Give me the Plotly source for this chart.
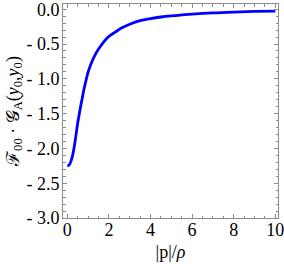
import plotly.graph_objects as go

p_over_rho = [0, 0.08, 0.2, 0.3, 0.4, 0.5, 0.6, 0.7, 0.8, 0.9, 1.0, 1.2, 1.4, 1.6, 1.8, 2.0, 2.3, 2.6, 3.0, 3.5, 4.0, 4.5, 5.0, 5.5, 6.0, 7.0, 8.0, 9.0, 10]
f_g = [-2.25, -2.24, -2.16, -2.03, -1.84, -1.63, -1.46, -1.30, -1.15, -1.02, -0.90, -0.74, -0.62, -0.53, -0.45, -0.39, -0.33, -0.27,
       -0.215, -0.165, -0.135, -0.112, -0.095, -0.082, -0.071, -0.053, -0.041, -0.032, -0.026]

x_ticks = [0, 2, 4, 6, 8, 10]
x_labels = ["0", "2", "4", "6", "8", "10"]
y_ticks = [0.0, -0.5, -1.0, -1.5, -2.0, -2.5, -3.0]
y_labels = ["0.0", "- 0.5", "- 1.0", "- 1.5", "- 2.0", "- 2.5", "- 3.0"]

fig = go.Figure()
fig.add_trace(go.Scatter(x=p_over_rho, y=f_g, mode="lines", line=dict(color="#0000FF", width=2.8, shape="spline", smoothing=1.0), showlegend=False))

axis_common = dict(showgrid=False, zeroline=False, showline=True, linecolor="#8c8c8c", linewidth=1,
                   mirror="allticks", ticks="inside", tickcolor="#8c8c8c", tickwidth=1,
                   ticklabeloverflow="allow",
                   tickfont=dict(family="Liberation Serif", size=18, color="#000"))

fig.update_xaxes(range=[-0.21, 10.13], tickvals=x_ticks, ticktext=x_labels, ticklen=4, ticklabelstandoff=-5,
                 minor=dict(dtick=0.5, ticks="inside", ticklen=2.5, tickcolor="#8c8c8c"),
                 title=dict(text="|p|/<i>ρ</i>", font=dict(family="Liberation Serif", size=18, color="#000"), standoff=6),
                 **axis_common)
fig.update_yaxes(range=[-3.0, 0.075], tickvals=y_ticks, ticktext=y_labels, ticklen=4, ticklabelstandoff=-1,
                 minor=dict(dtick=0.1, ticks="inside", ticklen=2.5, tickcolor="#8c8c8c"),
                 title=dict(text="\u2131<sub>00</sub> \u00b7 \U0001D4A2<sub>A</sub>(<i>y</i><sub>0</sub>,<i>y</i><sub>0</sub>)",
                            font=dict(family="Liberation Serif", size=18, color="#000"), standoff=2),
                 **axis_common)

fig.update_layout(width=284, height=264, margin=dict(l=63, r=6, t=4, b=46, autoexpand=False),
                  plot_bgcolor="white", paper_bgcolor="white")
fig.write_html("out.html", config={"displayModeBar": False},
               post_script="document.body.style.margin='0';document.body.style.overflow='hidden';")
